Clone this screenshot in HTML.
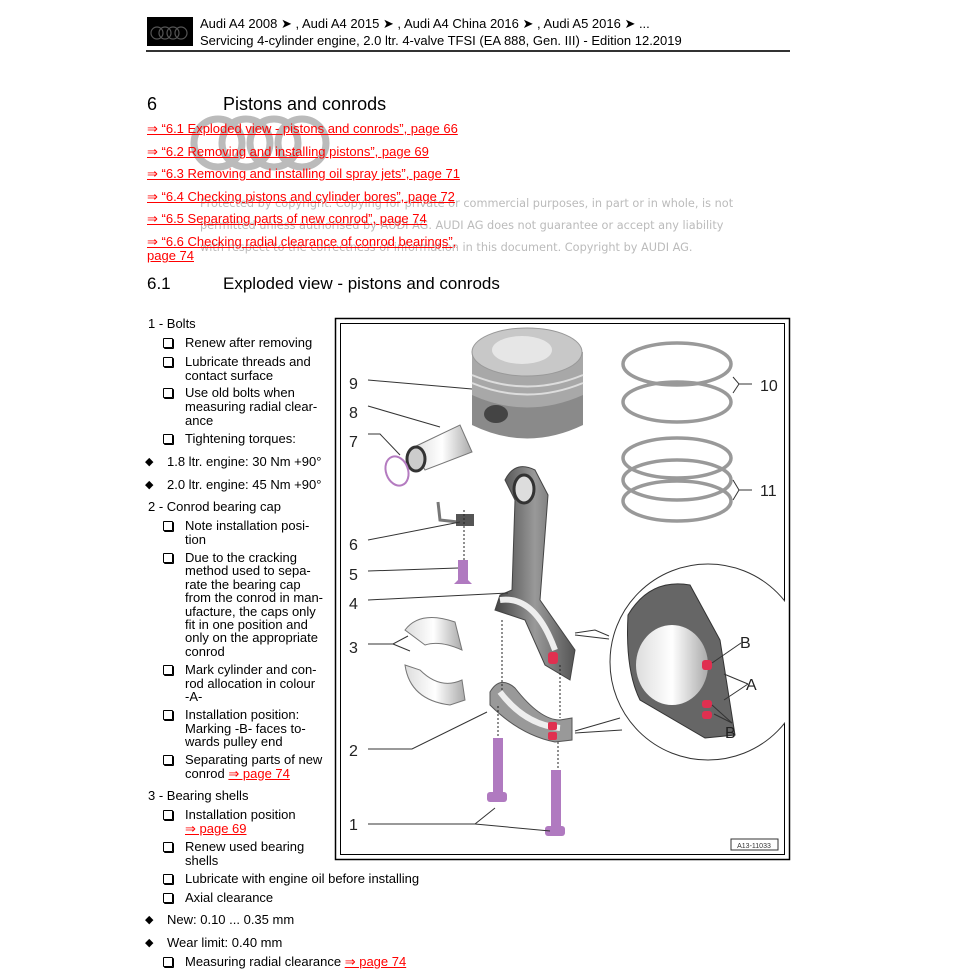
<!DOCTYPE html>
<html><head><meta charset="utf-8"><style>
html,body{margin:0;padding:0;background:#fff;}
body{width:973px;height:973px;position:relative;overflow:hidden;font-family:"Liberation Sans",Arial,sans-serif;color:#000;}
.t{position:absolute;font-size:13px;line-height:14px;white-space:nowrap;}
.r{color:#f00;text-decoration:underline;}
.bx{position:absolute;width:8px;height:8px;border:1.3px solid #000;border-radius:1px;box-shadow:1px 1px 0 #000;}
.dm{position:absolute;font-size:11px;line-height:14px;}
.wm{position:absolute;font-size:11.3px;color:#bbb;white-space:nowrap;font-family:"DejaVu Sans",sans-serif;}
</style></head><body>
<div style="position:absolute;left:147px;top:17px;width:46px;height:29px;background:#000"></div>
<svg style="position:absolute;left:147px;top:17px" width="46" height="29"><g fill="none" stroke="#555" stroke-width="1.2"><circle cx="10" cy="16" r="6"/><circle cx="18" cy="16" r="6"/><circle cx="26" cy="16" r="6"/><circle cx="34" cy="16" r="6"/></g></svg>
<div class="t" style="left:200px;top:17px;font-size:13px">Audi A4 2008 ➤ , Audi A4 2015 ➤ , Audi A4 China 2016 ➤ , Audi A5 2016 ➤ ...</div>
<div class="t" style="left:200px;top:34px;font-size:13px">Servicing 4-cylinder engine, 2.0 ltr. 4-valve TFSI (EA 888, Gen. III) - Edition 12.2019</div>
<div style="position:absolute;left:146px;top:50px;width:644px;height:2px;background:#333"></div>

<svg style="position:absolute;left:190px;top:108px" width="150" height="70"><g fill="none" stroke="#bbb" stroke-width="7"><circle cx="28" cy="35" r="24"/><circle cx="56" cy="35" r="24"/><circle cx="84" cy="35" r="24"/><circle cx="112" cy="35" r="24"/></g></svg>
<div class="wm" style="left:200px;top:197px">Protected by copyright. Copying for private or commercial purposes, in part or in whole, is not</div>
<div class="wm" style="left:200px;top:219px">permitted unless authorised by AUDI AG. AUDI AG does not guarantee or accept any liability</div>
<div class="wm" style="left:200px;top:241px">with respect to the correctness of information in this document. Copyright by AUDI AG.</div>

<div class="t" style="left:147px;top:94px;font-size:18px;line-height:20px">6</div>
<div class="t" style="left:223px;top:94px;font-size:18px;line-height:20px">Pistons and conrods</div>
<div class="t r" style="left:147px;top:122px">⇒ “6.1 Exploded view - pistons and conrods”, page 66</div>
<div class="t r" style="left:147px;top:145px">⇒ “6.2 Removing and installing pistons”, page 69</div>
<div class="t r" style="left:147px;top:167px">⇒ “6.3 Removing and installing oil spray jets”, page 71</div>
<div class="t r" style="left:147px;top:190px">⇒ “6.4 Checking pistons and cylinder bores”, page 72</div>
<div class="t r" style="left:147px;top:212px">⇒ “6.5 Separating parts of new conrod”, page 74</div>
<div class="t r" style="left:147px;top:235px">⇒ “6.6 Checking radial clearance of conrod bearings”,</div>
<div class="t r" style="left:147px;top:249px">page 74</div>
<div class="t" style="left:147px;top:274px;font-size:17px;line-height:20px">6.1</div>
<div class="t" style="left:223px;top:274px;font-size:17px;line-height:20px">Exploded view - pistons and conrods</div>

<div class="t" style="left:148px;top:317px">1 - Bolts</div>
<div class="bx" style="left:163px;top:338px"></div><div class="t" style="left:185px;top:336px">Renew after removing</div>
<div class="bx" style="left:163px;top:357px"></div><div class="t" style="left:185px;top:355px">Lubricate threads and<br>contact surface</div>
<div class="bx" style="left:163px;top:388px"></div><div class="t" style="left:185px;top:386px">Use old bolts when<br>measuring radial clear-<br>ance</div>
<div class="bx" style="left:163px;top:434px"></div><div class="t" style="left:185px;top:432px">Tightening torques:</div>
<div class="dm" style="left:145px;top:455px">◆</div><div class="t" style="left:167px;top:455px">1.8 ltr. engine: 30 Nm +90°</div>
<div class="dm" style="left:145px;top:478px">◆</div><div class="t" style="left:167px;top:478px">2.0 ltr. engine: 45 Nm +90°</div>
<div class="t" style="left:148px;top:500px">2 - Conrod bearing cap</div>
<div class="bx" style="left:163px;top:521px"></div><div class="t" style="left:185px;top:519px">Note installation posi-<br>tion</div>
<div class="bx" style="left:163px;top:553px"></div><div class="t" style="left:185px;top:551px;line-height:13.4px">Due to the cracking<br>method used to sepa-<br>rate the bearing cap<br>from the conrod in man-<br>ufacture, the caps only<br>fit in one position and<br>only on the appropriate<br>conrod</div>
<div class="bx" style="left:163px;top:665px"></div><div class="t" style="left:185px;top:663px;line-height:13.5px">Mark cylinder and con-<br>rod allocation in colour<br>-A-</div>
<div class="bx" style="left:163px;top:710px"></div><div class="t" style="left:185px;top:708px;line-height:13.5px">Installation position:<br>Marking -B- faces to-<br>wards pulley end</div>
<div class="bx" style="left:163px;top:755px"></div><div class="t" style="left:185px;top:753px;line-height:13.5px">Separating parts of new<br>conrod <span class="r">⇒ page 74</span></div>
<div class="t" style="left:148px;top:789px">3 - Bearing shells</div>
<div class="bx" style="left:163px;top:810px"></div><div class="t" style="left:185px;top:808px;line-height:13.5px">Installation position<br><span class="r">⇒ page 69</span></div>
<div class="bx" style="left:163px;top:842px"></div><div class="t" style="left:185px;top:840px;line-height:13.5px">Renew used bearing<br>shells</div>
<div class="bx" style="left:163px;top:874px"></div><div class="t" style="left:185px;top:872px">Lubricate with engine oil before installing</div>
<div class="bx" style="left:163px;top:893px"></div><div class="t" style="left:185px;top:891px">Axial clearance</div>
<div class="dm" style="left:145px;top:913px">◆</div><div class="t" style="left:167px;top:913px">New: 0.10 ... 0.35 mm</div>
<div class="dm" style="left:145px;top:936px">◆</div><div class="t" style="left:167px;top:936px">Wear limit: 0.40 mm</div>
<div class="bx" style="left:163px;top:957px"></div><div class="t" style="left:185px;top:955px">Measuring radial clearance <span class="r">⇒ page 74</span></div>

<svg style="position:absolute;left:0;top:0" width="973" height="973" font-family="Liberation Sans, sans-serif">
<defs>
<linearGradient id="g1" x1="0" x2="1"><stop offset="0" stop-color="#444"/><stop offset=".5" stop-color="#999"/><stop offset="1" stop-color="#555"/></linearGradient>
<linearGradient id="g2" x1="0" x2="1"><stop offset="0" stop-color="#ddd"/><stop offset=".5" stop-color="#fff"/><stop offset="1" stop-color="#aaa"/></linearGradient>
<clipPath id="cb"><rect x="341" y="324" width="444" height="530"/></clipPath>
</defs>
<rect x="335.5" y="318.5" width="454" height="541" fill="none" stroke="#000" stroke-width="1.5"/>
<rect x="340.5" y="323.5" width="444" height="531" fill="none" stroke="#000" stroke-width="1"/>
<path d="M472 352 L472 425 Q527 452 583 425 L583 352 Z" fill="#8a8a8a"/>
<path d="M472 352 L472 395 Q527 420 583 395 L583 352 Z" fill="#a8a8a8"/>
<ellipse cx="527" cy="352" rx="55" ry="24" fill="#c8c8c8" stroke="#999"/>
<ellipse cx="522" cy="350" rx="30" ry="14" fill="#e6e6e6"/>
<path d="M472 375 Q527 398 583 375" stroke="#ddd" stroke-width="2" fill="none"/>
<path d="M472 383 Q527 406 583 383" stroke="#ddd" stroke-width="2" fill="none"/>
<ellipse cx="496" cy="414" rx="12" ry="9" fill="#444"/>
<path d="M412 448 L460 425 L472 452 L425 470 Z" fill="url(#g2)" stroke="#777"/>
<ellipse cx="416" cy="459" rx="9" ry="12" fill="#ccc" stroke="#333" stroke-width="3"/>
<ellipse cx="397" cy="471" rx="11" ry="15" fill="none" stroke="#b47bc0" stroke-width="2" transform="rotate(-20 397 471)"/>
<g fill="none" stroke="#999" stroke-width="3.5">
<ellipse cx="677" cy="364" rx="54" ry="21"/><ellipse cx="677" cy="402" rx="54" ry="20"/>
<ellipse cx="677" cy="458" rx="54" ry="20"/><ellipse cx="677" cy="480" rx="54" ry="20"/><ellipse cx="677" cy="501" rx="54" ry="20"/>
</g>
<path d="M438 502 L440 520 L458 522" stroke="#777" stroke-width="3" fill="none"/>
<rect x="456" y="514" width="18" height="12" fill="#555"/>
<path d="M458 560 L458 580 L454 584 L472 584 L468 580 L468 560 Z" fill="#b07ac0"/>
<path d="M505 480 Q515 460 535 470 L548 495 L540 600 L575 650 L570 680 L545 665 L525 620 L495 610 L500 595 L512 590 L515 500 Z" fill="url(#g1)" stroke="#444"/>
<ellipse cx="524" cy="489" rx="10" ry="14" fill="#ddd" stroke="#333" stroke-width="3"/>
<path d="M500 600 Q535 595 555 650" stroke="#eee" stroke-width="6" fill="none"/>
<rect x="548" y="652" width="10" height="12" rx="3" fill="#e03050"/>
<path d="M490 692 Q500 675 515 688 Q540 720 560 720 L572 718 L572 740 L555 742 Q520 735 490 705 Z" fill="#999" stroke="#555"/>
<path d="M500 692 Q525 725 560 728" stroke="#eee" stroke-width="6" fill="none"/>
<rect x="548" y="722" width="9" height="8" rx="2" fill="#e03050"/><rect x="548" y="732" width="9" height="8" rx="2" fill="#e03050"/>
<path d="M405 630 Q420 610 455 622 L462 650 Q440 640 425 645 Z" fill="url(#g2)" stroke="#777"/>
<path d="M405 665 Q410 700 450 705 L465 700 L462 680 Q440 690 420 670 Z" fill="url(#g2)" stroke="#777"/>
<g fill="#b07ac0"><rect x="493" y="738" width="10" height="55"/><rect x="487" y="792" width="20" height="10" rx="3"/>
<rect x="551" y="770" width="10" height="60"/><rect x="545" y="826" width="20" height="10" rx="3"/></g>
<g stroke="#222" stroke-dasharray="2 2"><line x1="502" y1="620" x2="502" y2="690"/><line x1="560" y1="665" x2="560" y2="718"/><line x1="498" y1="706" x2="498" y2="738"/><line x1="558" y1="742" x2="558" y2="770"/><line x1="464" y1="510" x2="464" y2="560"/></g>
<g clip-path="url(#cb)">
<circle cx="708" cy="662" r="98" fill="#fff" stroke="#333"/>
<path d="M628 615 Q650 578 690 585 L720 640 L735 735 L705 738 L640 700 Q625 670 628 615 Z" fill="#666" stroke="#333"/>
<ellipse cx="672" cy="665" rx="36" ry="40" fill="url(#g2)"/>
<rect x="702" y="660" width="10" height="10" rx="3" fill="#e03050"/><rect x="702" y="700" width="10" height="8" rx="3" fill="#e03050"/><rect x="702" y="711" width="10" height="8" rx="3" fill="#e03050"/>
</g>
<g fill="none" stroke="#333" stroke-width="1">
<line x1="368" y1="380" x2="472" y2="389"/>
<line x1="368" y1="406" x2="440" y2="427"/>
<polyline points="368,434 380,434 400,455"/>
<line x1="368" y1="540" x2="460" y2="522"/>
<line x1="368" y1="571" x2="458" y2="568"/>
<line x1="368" y1="600" x2="508" y2="593"/>
<polyline points="368,644 393,644 408,636"/><line x1="393" y1="644" x2="410" y2="651"/>
<polyline points="368,749 412,749 487,712"/>
<polyline points="368,824 475,824 495,808"/><line x1="475" y1="824" x2="550" y2="831"/>
<polyline points="575,633 595,630 609,636"/><line x1="575" y1="635" x2="609" y2="639"/>
<line x1="575" y1="731" x2="620" y2="718"/><line x1="575" y1="733" x2="622" y2="730"/>
<polyline points="752,384 739,384 733,377"/><line x1="739" y1="384" x2="733" y2="393"/>
<polyline points="752,490 739,490 733,480"/><line x1="739" y1="490" x2="733" y2="500"/>
<line x1="741" y1="643" x2="712" y2="663"/>
<line x1="748" y1="684" x2="724" y2="674"/><line x1="748" y1="684" x2="724" y2="700"/>
<line x1="732" y1="723" x2="712" y2="705"/><line x1="732" y1="723" x2="714" y2="714"/>
</g>
<g font-size="16" fill="#222">
<text x="349" y="389">9</text><text x="349" y="418">8</text><text x="349" y="447">7</text><text x="349" y="550">6</text><text x="349" y="580">5</text><text x="349" y="609">4</text><text x="349" y="653">3</text><text x="349" y="756">2</text><text x="349" y="830">1</text>
<text x="760" y="391">10</text><text x="760" y="496">11</text>
<text x="740" y="648">B</text><text x="746" y="690">A</text><text x="725" y="738">B</text>
</g>
<rect x="731" y="839" width="47" height="11" fill="#fff" stroke="#333"/>
<text x="754" y="848" font-size="7" text-anchor="middle" fill="#333">A13-11033</text>
</svg>
</body></html>
